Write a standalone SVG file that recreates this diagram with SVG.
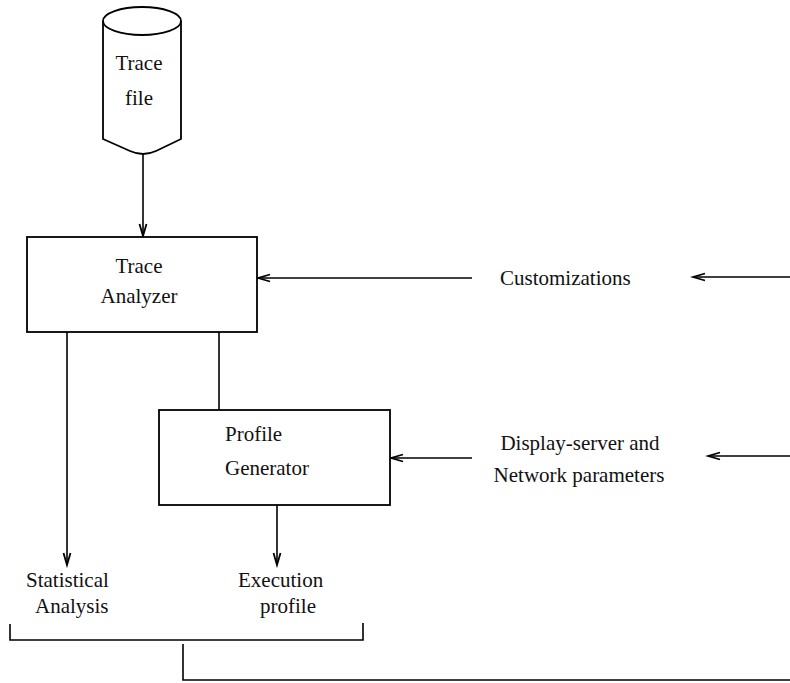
<svg xmlns="http://www.w3.org/2000/svg" width="790" height="683" viewBox="0 0 790 683">
<style>
.s{fill:none;stroke:#000;stroke-width:1.6}
.b{fill:#fff;stroke:#000;stroke-width:1.8}
text{font-family:"Liberation Serif","Times New Roman",serif;font-size:21px;fill:#111}
</style>
<defs>
<marker id="ah" markerUnits="userSpaceOnUse" markerWidth="16" markerHeight="10" refX="13" refY="5" orient="auto">
<path d="M1,1.5 L13,5 L1,8.5" fill="none" stroke="#000" stroke-width="1.8"/>
</marker>
</defs>
<rect width="790" height="683" fill="#fff"/>
<g id="connectors">
<line class="s" x1="143" y1="153" x2="143" y2="236" marker-end="url(#ah)"/>
<line class="s" x1="472" y1="278" x2="258" y2="278" marker-end="url(#ah)"/>
<line class="s" x1="790" y1="277" x2="693" y2="277" marker-end="url(#ah)"/>
<line class="s" x1="219" y1="332" x2="219" y2="410"/>
<line class="s" x1="472" y1="458" x2="391" y2="458" marker-end="url(#ah)"/>
<line class="s" x1="790" y1="456" x2="708" y2="456" marker-end="url(#ah)"/>
<line class="s" x1="67" y1="332" x2="67" y2="565" marker-end="url(#ah)"/>
<line class="s" x1="277" y1="505" x2="277" y2="565" marker-end="url(#ah)"/>
<path class="s" d="M10,624 V640 H363 V623"/>
<path class="s" d="M183,644 V680 H790"/>
</g>
<g id="trace-file">
<path class="b" d="M103,21 V139 L130,151 Q143,157 156,151 L181,139 V21"/>
<ellipse class="b" cx="142" cy="21" rx="39" ry="14"/>
<text x="139" y="70" text-anchor="middle">Trace</text>
<text x="139" y="105" text-anchor="middle">file</text>
</g>
<g id="trace-analyzer">
<rect class="b" x="27" y="237" width="230" height="95"/>
<text x="139" y="273" text-anchor="middle">Trace</text>
<text x="139" y="303" text-anchor="middle">Analyzer</text>
</g>
<g id="profile-generator">
<rect class="b" x="159" y="410" width="231" height="95"/>
<text x="225" y="441">Profile</text>
<text x="225" y="475">Generator</text>
</g>
<g id="customizations">
<text x="500" y="285">Customizations</text>
</g>
<g id="display-params">
<text x="580" y="450" text-anchor="middle">Display-server and</text>
<text x="579" y="482" text-anchor="middle">Network parameters</text>
</g>
<g id="statistical-analysis">
<text x="26" y="587">Statistical</text>
<text x="35" y="613">Analysis</text>
</g>
<g id="execution-profile">
<text x="238" y="587">Execution</text>
<text x="260" y="613">profile</text>
</g>
</svg>
